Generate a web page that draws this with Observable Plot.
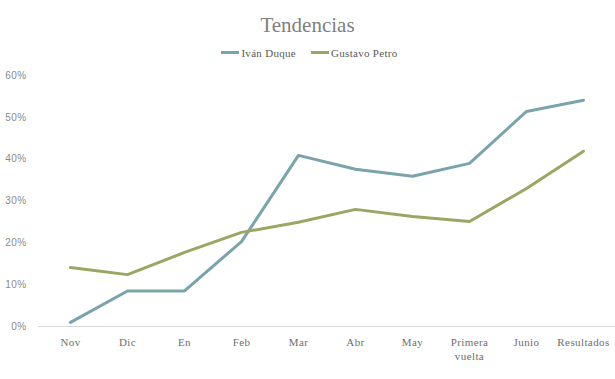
<!DOCTYPE html>
<html>
<head>
<meta charset="utf-8">
<script src="https://cdn.jsdelivr.net/npm/d3@7"></script>
<script src="https://cdn.jsdelivr.net/npm/@observablehq/plot@0.6"></script>
<style>
  body { margin: 0; background: #fff; font-family: "Liberation Serif", serif; }
  #wrap { width: 615px; }
  #title { height: 40px; text-align: center; font-size: 21px; color: #7f7f7f; line-height: 50px; }
  #legend { height: 25px; display: flex; justify-content: center; gap: 15px; font-size: 11px; color: #595959; align-items: center; padding-left: 4px; letter-spacing: 0.3px; }
  .item { display: flex; align-items: center; }
  .sw { width: 18px; height: 3px; margin-right: 2px; }
</style>
</head>
<body>
<div id="wrap">
  <div id="title">Tendencias</div>
  <div id="legend"></div>
  <div id="chart"></div>
</div>
<script>
const categories = ["Nov", "Dic", "En", "Feb", "Mar", "Abr", "May", "Primera\nvuelta", "Junio", "Resultados"];
const seriesNames = ["Iván Duque", "Gustavo Petro"];
const duque = [0.010, 0.085, 0.085, 0.203, 0.409, 0.376, 0.359, 0.390, 0.514, 0.541];
const petro = [0.141, 0.124, 0.177, 0.225, 0.249, 0.280, 0.263, 0.251, 0.330, 0.419];
const colors = ["#7ba3aa", "#9ba564"];
const yTicks = [0, 0.1, 0.2, 0.3, 0.4, 0.5, 0.6];

const data = [];
categories.forEach((c, i) => {
  data.push({cat: c, series: seriesNames[0], value: duque[i]});
  data.push({cat: c, series: seriesNames[1], value: petro[i]});
});

const legend = document.getElementById("legend");
seriesNames.forEach((s, i) => {
  const item = document.createElement("div");
  item.className = "item";
  const sw = document.createElement("div");
  sw.className = "sw";
  sw.style.background = colors[i];
  const t = document.createElement("span");
  t.textContent = s;
  item.appendChild(sw);
  item.appendChild(t);
  legend.appendChild(item);
});

const chart = Plot.plot({
  width: 615,
  height: 314,
  marginLeft: 38,
  marginRight: 0,
  marginTop: 10,
  marginBottom: 53,
  style: { fontFamily: "Liberation Serif, serif", fontSize: "11px", color: "#666", background: "#fff", letterSpacing: "0.4px" },
  x: { type: "point", domain: categories, padding: 0.5, label: null },
  y: { domain: [0, 0.6], label: null },
  color: { domain: seriesNames, range: colors },
  marks: [
    Plot.ruleY([0], { stroke: "#d9d9d9", strokeWidth: 1 }),
    Plot.axisX({ tickSize: 0, tickPadding: 10, lineHeight: 1.25, label: null, fill: "#6e6e6e" }),
    Plot.axisY({ ticks: yTicks, tickSize: 0, tickPadding: 12, tickFormat: d => Math.round(d * 100) + "%", label: null, fill: "#8a8a8a", fontFamily: "Liberation Sans, sans-serif", fontSize: 10 }),
    Plot.line(data, { x: "cat", y: "value", z: "series", stroke: "series", strokeWidth: 3, curve: "linear" })
  ]
});
document.getElementById("chart").appendChild(chart);
</script>
</body>
</html>
